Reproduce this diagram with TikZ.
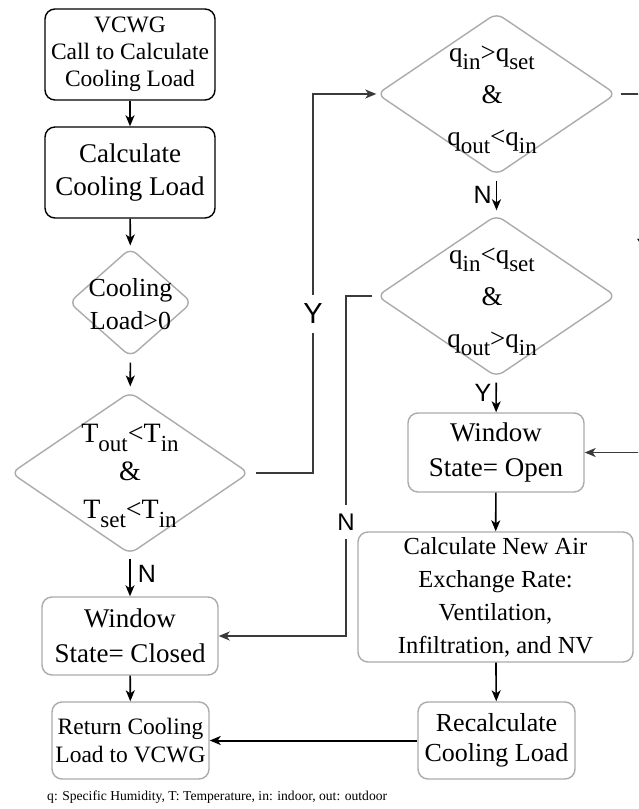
\documentclass[tikz,border=0pt]{standalone}
\usepackage{fontspec}
\setmainfont{Liberation Serif}
\newfontfamily\labfont{Liberation Sans}
\usetikzlibrary{shapes.geometric,arrows.meta}
\newcommand\sbx[1]{\raisebox{-0.32em}{\fontsize{23}{23}\selectfont #1}}
\definecolor{boxgray}{HTML}{ABABAB}
\definecolor{linegray}{HTML}{3A3A3A}
\tikzset{
  blackbox/.style={draw=black, line width=1.4pt, rounded corners=10pt, align=center, inner sep=0pt},
  graybox/.style={draw=boxgray, line width=1.4pt, rounded corners=10pt, align=center, inner sep=0pt},
  dia/.style={diamond, draw=boxgray, line width=1.4pt, rounded corners=8pt, inner sep=0pt},
  dtext/.style={align=center, inner sep=0pt},
  arr/.style={draw=black, line width=1.6pt, -{Stealth[length=11pt,width=9pt,inset=3pt]}},
  route/.style={draw=linegray, line width=1.4pt, -{Stealth[length=11pt,width=9pt,inset=3pt]}},
  yn/.style={font=\labfont\fontsize{25}{25}\selectfont, inner sep=4pt},
  ynbig/.style={font=\labfont\fontsize{29}{29}\selectfont, fill=white, inner sep=0pt, minimum height=38pt},
}
\begin{document}
\begin{tikzpicture}[x=1pt,y=-1pt]
\useasboundingbox (0,0) rectangle (638,809);
\clip (0,0) rectangle (638,809);
% left column
\node[blackbox, minimum width=170pt, minimum height=91pt, font=\fontsize{23.5}{27}\selectfont] (b1) at (130,54.5) {VCWG\\Call to Calculate\\Cooling Load};
\node[blackbox, minimum width=170pt, minimum height=91pt, font=\fontsize{27}{33}\selectfont] (b2) at (130,172.5) {Calculate\\Cooling Load};
\node[dia, minimum width=123pt, minimum height=109pt] (d0) at (130.5,302.5) {};
\node[dtext, font=\fontsize{26}{33}\selectfont] (d0t) at (130.5,304) {Cooling\\Load>0};
\node[dia, minimum width=238pt, minimum height=162pt] (d1) at (130,473) {};
\node[dtext, font=\fontsize{28}{38}\selectfont] (d1t) at (130,476) {T\sbx{out}<T\sbx{in}\\\&\\T\sbx{set}<T\sbx{in}};
\node[graybox, minimum width=176pt, minimum height=78pt, font=\fontsize{27}{35}\selectfont] (bc) at (130,636) {Window\\State= Closed};
\node[graybox, minimum width=157pt, minimum height=77pt, font=\fontsize{23.5}{28}\selectfont] (br) at (130.5,740.5) {Return Cooling\\Load to VCWG};
% right column
\node[dia, minimum width=239pt, minimum height=162pt] (q1) at (496.5,94) {};
\node[dtext, font=\fontsize{27}{42}\selectfont] (q1t) at (492,100) {q\sbx{in}>q\sbx{set}\\\&\\q\sbx{out}<q\sbx{in}};
\node[dia, minimum width=239pt, minimum height=162pt] (q2) at (496.5,296) {};
\node[dtext, font=\fontsize{27}{42}\selectfont] (q2t) at (492,302) {q\sbx{in}<q\sbx{set}\\\&\\q\sbx{out}>q\sbx{in}};
\node[graybox, minimum width=176pt, minimum height=79pt, font=\fontsize{27}{35}\selectfont] (bo) at (496,452.5) {Window\\State= Open};
\node[graybox, minimum width=275pt, minimum height=130pt, font=\fontsize{24.5}{33}\selectfont] (bn) at (495.5,597) {Calculate New Air\\Exchange Rate:\\Ventilation,\\Infiltration, and NV};
\node[graybox, minimum width=157pt, minimum height=77pt, font=\fontsize{26}{30}\selectfont] (brc) at (496.5,740.5) {Recalculate\\Cooling Load};
% footnote
\node[anchor=west, inner sep=0pt, font=\fontsize{13.6}{15}\selectfont] (note) at (47,797) {q: Specific Humidity, T: Temperature, in: indoor, out: outdoor};
% bend coordinates
\coordinate (yx) at (313,0);
\coordinate (nx) at (346,0);
\coordinate (rx) at (645,0);
% straight arrows
\draw[arr] (b1) -- (b2);
\draw[arr, shorten >=2pt] (b2) -- (d0);
\draw[arr, shorten <=5pt, shorten >=5pt] (d0) -- (d1);
\draw[arr, shorten <=4pt] (d1) -- node[yn, right, pos=0.45, xshift=3pt] (ln1) {N} (bc);
\draw[arr] (bc) -- (br);
\draw[arr, shorten <=5pt, shorten >=4pt] (q1) -- node[yn, left, pos=0.5] (ln2) {N} (q2);
\draw[arr, shorten <=5pt] (q2) -- node[yn, left, pos=0.45] (ly1) {Y} (bo);
\draw[arr] (bo) -- (bn);
\draw[arr] (bn) -- (brc);
\draw[arr, line width=2pt] (brc) -- (br);
% routed connectors
\draw[route, shorten <=6pt] (d1.east) -- (d1.east -| yx) -- (yx |- q1.west) -- (q1.west);
\node[ynbig] (ly2) at (313,314) {Y};
\draw[route, shorten <=4pt] (q2.west) -- (q2.west -| nx) -- (nx |- bc.east) -- (bc.east);
\node[ynbig, font=\labfont\fontsize{24}{24}\selectfont, minimum height=34pt] (ln3) at (346,522) {N};
\draw[route, line width=1.3pt, shorten <=4pt] (q1.east) -- (q1.east -| rx) -- (rx |- bo.east) -- (bo.east);
\node[ynbig, font=\labfont\fontsize{25}{25}\selectfont] (ly3) at (645,248) {Y};
\end{tikzpicture}
\end{document}
